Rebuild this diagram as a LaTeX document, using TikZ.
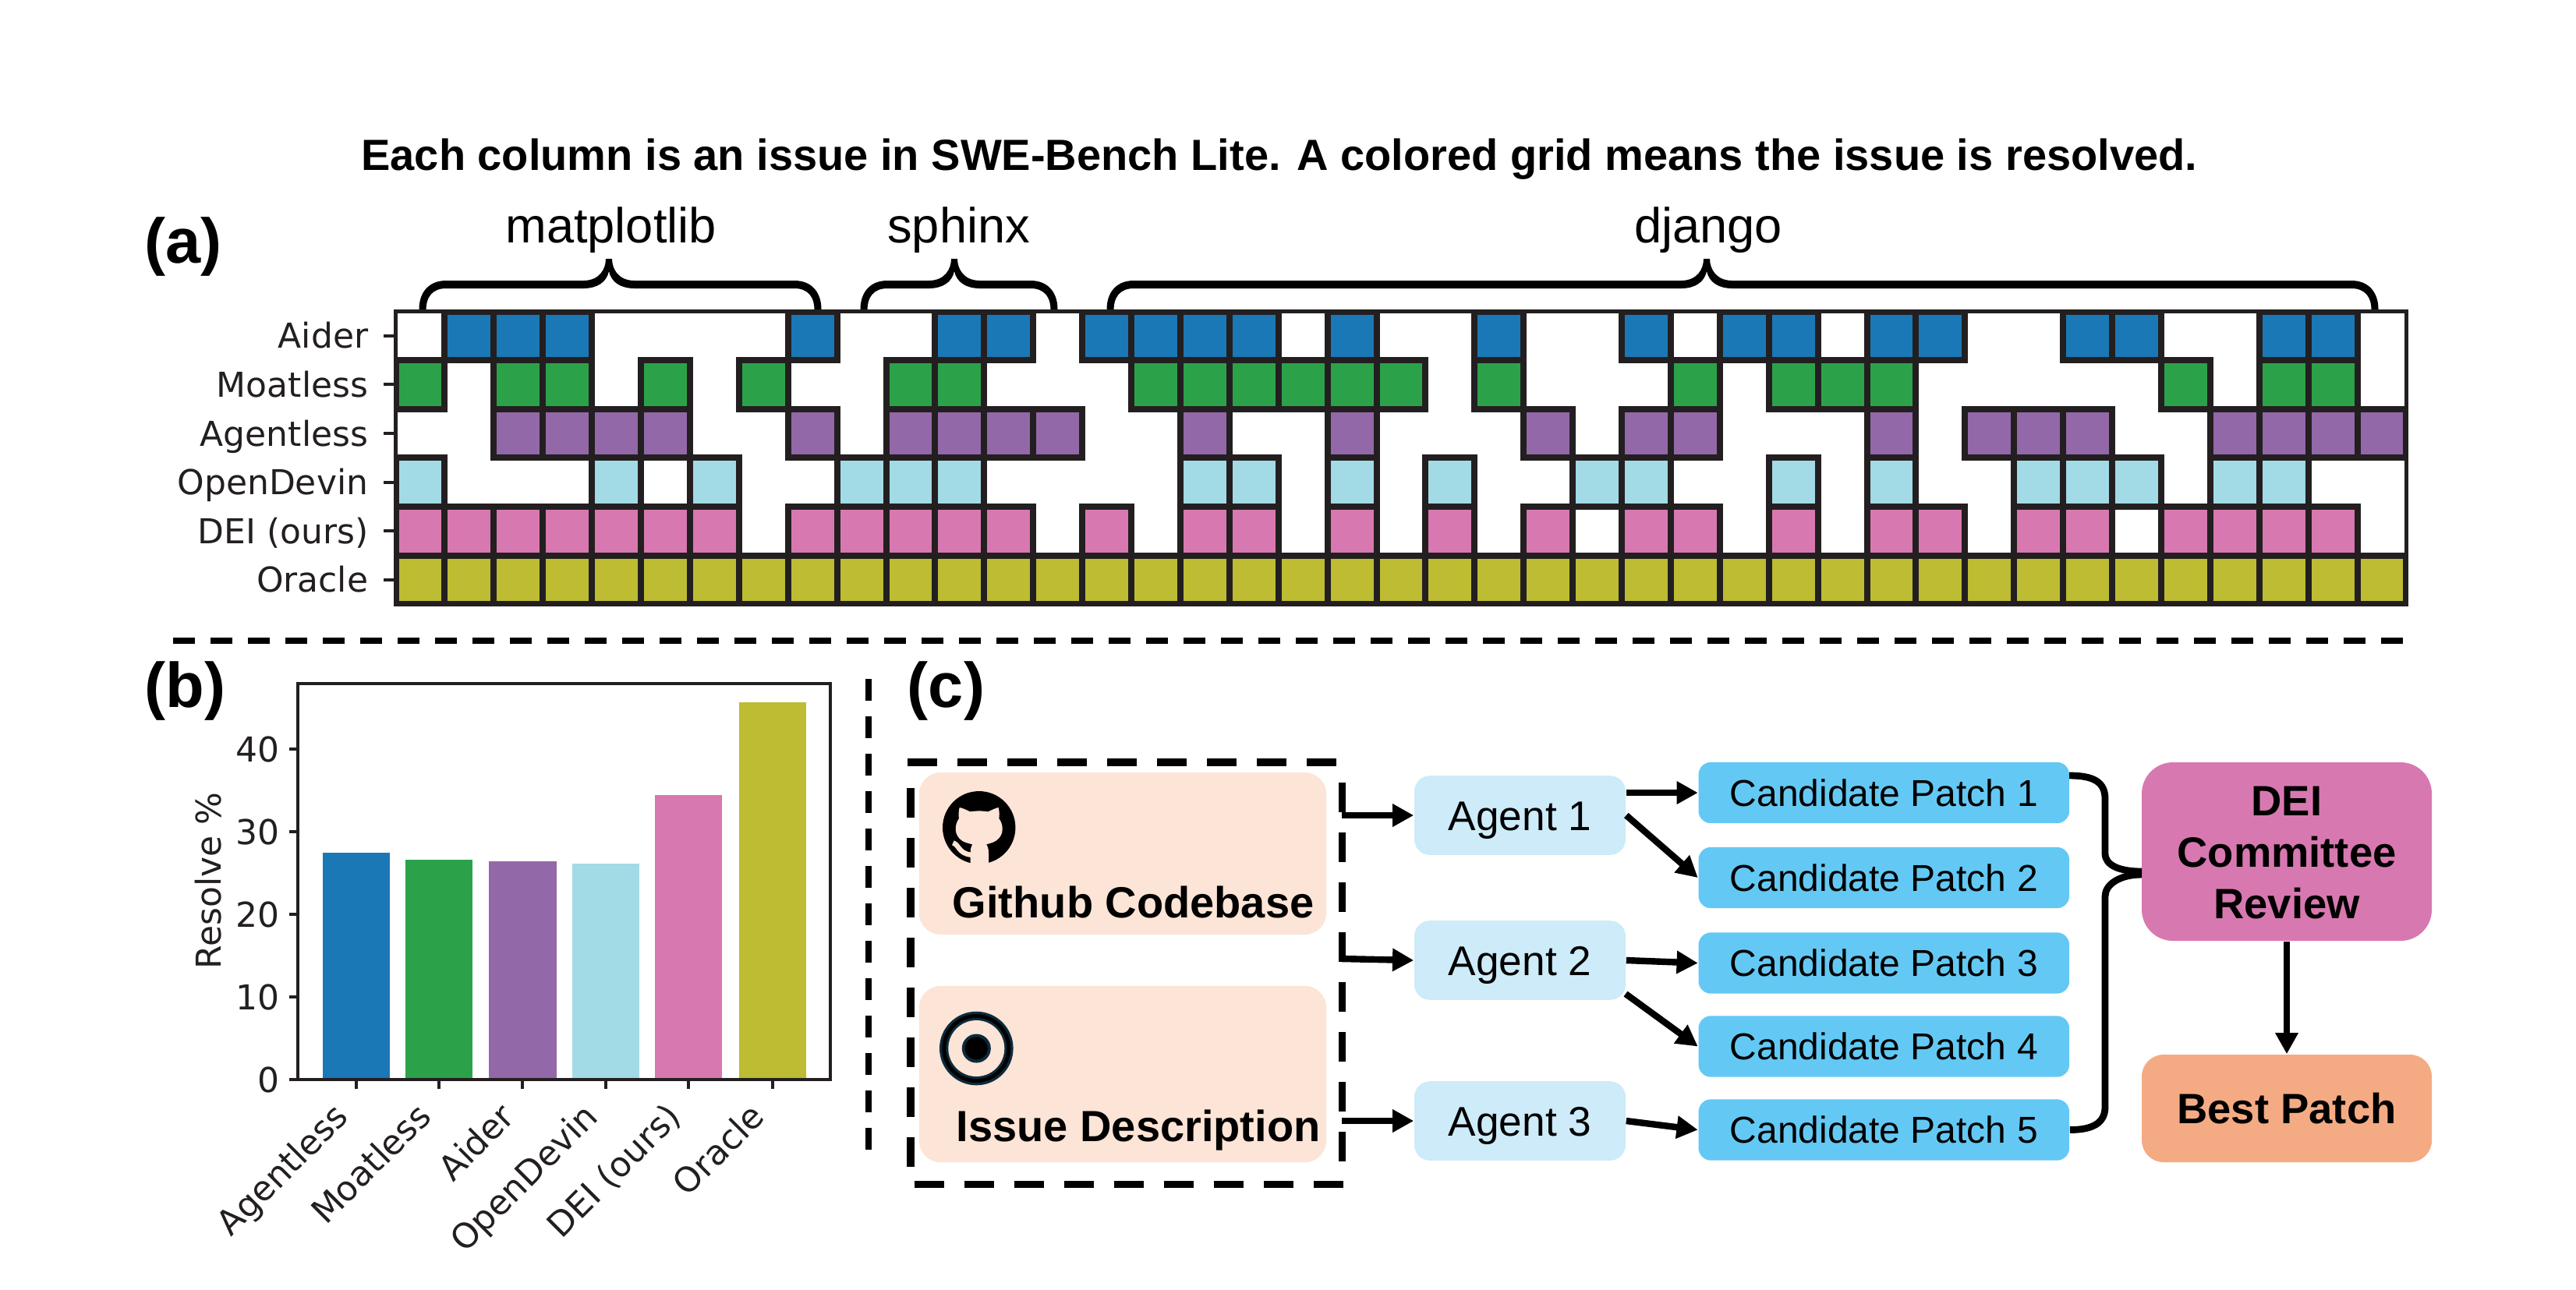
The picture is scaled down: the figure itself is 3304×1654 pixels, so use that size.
\documentclass[tikz,border=0pt]{standalone}
\usepackage{fontspec}
\setmainfont{Liberation Sans}
\newfontfamily\dvfont{DejaVu Sans}
\usetikzlibrary{arrows.meta}
\definecolor{inkc}{HTML}{231F20}
\definecolor{cAider}{HTML}{1B78B6}
\definecolor{cMoat}{HTML}{2BA24A}
\definecolor{cAgent}{HTML}{9368A9}
\definecolor{cDevin}{HTML}{A2DAE6}
\definecolor{cDei}{HTML}{D878B0}
\definecolor{cOracle}{HTML}{BDBC32}
\definecolor{cPeach}{HTML}{FCE4D6}
\definecolor{cAgentBox}{HTML}{CDEBF8}
\definecolor{cPatch}{HTML}{63C9F4}
\definecolor{cBest}{HTML}{F4AB84}
\definecolor{cRing}{HTML}{0B2B3C}
\tikzset{
  x=0.25pt,y=-0.25pt,
  cell edge/.style={draw=inkc,line width=2pt},
  axis frame/.style={draw=inkc,line width=1.15pt},
  axis tick/.style={draw=inkc,line width=1pt},
  plot label/.style={font=\dvfont\fontsize{11}{13}\selectfont,text=inkc,inner sep=0pt},
  row label/.style={plot label,anchor=east,text height=8pt,text depth=0pt},
  num label/.style={plot label,anchor=east,text height=8pt,text depth=0pt},
  bar label/.style={plot label,anchor=east,rotate=45,text height=8.2pt,text depth=2.6pt},
  panel label/.style={font=\bfseries\fontsize{20.3}{24}\selectfont,anchor=base west,inner sep=0pt},
  repo label/.style={font=\fontsize{15.8}{19}\selectfont,anchor=base,inner sep=0pt},
  sep line/.style={draw=black,line width=1.9pt,dash pattern=on 7pt off 5pt},
  input line/.style={draw=black,line width=2.3pt,dash pattern=on 9.5pt off 6.5pt},
  brace fill/.style={fill=black},
  peach box/.style={fill=cPeach,rounded corners=7pt,minimum width=130.6pt,inner sep=0pt},
  input label/.style={font=\bfseries\fontsize{14}{17}\selectfont,anchor=base west,inner sep=0pt},
  agent box/.style={fill=cAgentBox,rounded corners=5pt,minimum width=67.75pt,minimum height=25.4pt,inner sep=0pt,
    font=\fontsize{13.3}{16}\selectfont,text height=9.5pt,text depth=0pt},
  patch box/.style={fill=cPatch,rounded corners=4pt,minimum width=118.9pt,minimum height=19.6pt,inner sep=0pt,
    font=\fontsize{12}{14}\selectfont,text height=8.6pt,text depth=0pt},
  dei box/.style={fill=cDei,rounded corners=10pt,minimum width=93pt,minimum height=57.25pt,inner sep=0pt},
  dei text/.style={font=\bfseries\fontsize{13.6}{16.6}\selectfont,align=center,inner sep=0pt},
  best box/.style={fill=cBest,rounded corners=7pt,minimum width=93pt,minimum height=34.5pt,inner sep=0pt,
    font=\bfseries\fontsize{13.6}{16}\selectfont,text height=9.8pt,text depth=0pt},
  flow arrow/.style={draw=black,line width=2.1pt,-{Triangle[length=6.8pt,width=7pt]}},
  merge line/.style={draw=black,line width=2.2pt},
}
\newcommand{\bracepath}[3]{%
  \fill[brace fill] ({#1-4.5},397) .. controls ({#1-4.5},375) and ({#1+8},360) .. ({#1+30},360)
    -- ({#2-33},360) .. controls ({#2-12},360) and ({#2-4},345) .. ({#2-4},332)
    -- ({#2+4},332) .. controls ({#2+4},345) and ({#2+12},360) .. ({#2+33},360)
    -- ({#3-30},360) .. controls ({#3-8},360) and ({#3+4.5},375) .. ({#3+4.5},397)
    -- ({#3-4.5},397) .. controls ({#3-4.5},382) and ({#3-12},370) .. ({#3-30},370)
    -- ({#2+33},370) .. controls ({#2+15},370) and ({#2+3},362) .. (#2,348)
    .. controls ({#2-3},362) and ({#2-15},370) .. ({#2-33},370)
    -- ({#1+30},370) .. controls ({#1+12},370) and ({#1+4.5},382) .. ({#1+4.5},397) -- cycle;}
\def\gridrows{0/cAider/{1,2,3,8,11,12,14,15,16,17,19,22,25,27,28,30,31,34,35,38,39},
  1/cMoat/{0,2,3,5,7,10,11,15,16,17,18,19,20,22,26,28,29,30,36,38,39},
  2/cAgent/{2,3,4,5,8,10,11,12,13,16,19,23,25,26,30,32,33,34,37,38,39,40},
  3/cDevin/{0,4,6,9,10,11,16,17,19,21,24,25,28,30,33,34,35,37,38},
  4/cDei/{0,1,2,3,4,5,6,8,9,10,11,12,14,16,17,19,21,23,25,26,28,30,31,33,34,36,37,38,39},
  5/cOracle/{0,1,...,40}}
\begin{document}
\begin{tikzpicture}
\useasboundingbox (0,0) rectangle (3304,1654);
\fill[white] (0,0) rectangle (3304,1654);
% title
\node[font=\bfseries\fontsize{14}{17}\selectfont,anchor=base west,inner sep=0pt] (title) at (462.6,218)
  {Each column is an issue in SWE-Bench Lite. A colored grid means the issue is resolved.};
\node[panel label] (pa) at (185,337) {(a)};
\node[panel label] (pb) at (185,907) {(b)};
\node[panel label] (pc) at (1163,907) {(c)};
% braces
\node[repo label] (rm) at (783.6,311) {matplotlib};
\node[repo label] (rs) at (1229.6,311) {sphinx};
\node[repo label] (rd) at (2191,311) {django};
\bracepath{542}{781}{1049}
\bracepath{1108}{1224}{1352}
\bracepath{1424}{2189}{3046}
% grid
\begin{scope}
  \clip (507.5,399.5) rectangle (3086.5,775);
  \foreach \r/\colr/\cells in \gridrows {
    \foreach \c in \cells {
      \fill[\colr] ({507.5+\c*62.9},{399.5+\r*62.6}) rectangle ({507.5+(\c+1)*62.9},{399.5+(\r+1)*62.6});
    }
  }
  \foreach \r/\colr/\cells in \gridrows {
    \foreach \c in \cells {
      \draw[cell edge] ({507.5+\c*62.9},{399.5+\r*62.6}) rectangle ({507.5+(\c+1)*62.9},{399.5+(\r+1)*62.6});
    }
  }
\end{scope}
\draw[axis frame,line width=1.25pt] (507.5,399.5) rectangle (3086.5,775);
\foreach \i/\t in {0/Aider,1/Moatless,2/Agentless,3/OpenDevin,4/DEI (ours),5/Oracle} {
  \draw[axis tick] (492,{399.5+(\i+.5)*62.6}) -- (505,{399.5+(\i+.5)*62.6});
  \node[row label] (row\i) at (473,{399.5+(\i+.5)*62.6}) {\t};
}
% separators
\draw[sep line] (221.7,821.7) -- (3091.7,821.7);
\draw[sep line] (1114,871) -- (1114,1478);
% bar chart
\fill[cAider] (413.6,1094.4) rectangle (500,1385);
\fill[cMoat] (520,1102.6) rectangle (606,1385);
\fill[cAgent] (627,1105) rectangle (713.6,1385);
\fill[cDevin] (733.6,1108.4) rectangle (820,1385);
\fill[cDei] (840,1020) rectangle (926,1385);
\fill[cOracle] (947.6,901) rectangle (1033.6,1385);
\draw[axis frame] (382,877) rectangle (1065,1385);
\foreach \v/\yy in {0/1385,10/1279,20/1173,30/1067,40/961} {
  \draw[axis tick] (371,\yy) -- (382,\yy);
  \node[num label] (y\v) at (359,\yy) {\v};
}
\foreach \i/\xx/\t in {0/456.8/Agentless,1/563/Moatless,2/670.3/Aider,3/776.8/OpenDevin,4/883/DEI (ours),5/990.6/Oracle} {
  \draw[axis tick] (\xx,1385) -- (\xx,1397);
  \node[bar label] (bar\i) at ({\xx-15},1427) {\t};
}
\node[plot label,rotate=90,anchor=base] (ylab) at (283,1130) {Resolve \%};
% input boxes
\node[peach box,minimum height=52pt] (github) at (1440,1095) {};
\node[peach box,minimum height=56.6pt] (issue) at (1440,1378) {};
\node[input label] (githubt) at (1221,1177.7) {Github Codebase};
\node[input label] (issuet) at (1226,1464) {Issue Description};
% github mark
\fill[black] (1255.7,1061.7) circle (46.7);
\begin{scope}[shift={(1190,1000)},scale=0.3333]
  \fill[cPeach] (122,108) .. controls (135,110) and (150,118) .. (163,124)
    .. controls (185,120) and (210,120) .. (232,124)
    .. controls (245,118) and (260,110) .. (272,108)
    .. controls (276,125) and (276,140) .. (274,150)
    .. controls (292,175) and (295,215) .. (262,236)
    .. controls (252,243) and (238,246) .. (225,250)
    .. controls (232,258) and (234,270) .. (234,285) -- (234,332) -- (164,332) -- (164,285)
    .. controls (164,270) and (166,258) .. (172,250)
    .. controls (158,246) and (142,243) .. (132,236)
    .. controls (100,215) and (102,175) .. (120,150)
    .. controls (118,140) and (118,125) .. (122,108) -- cycle;
  \draw[cPeach,line width=1.6pt] (97,244) .. controls (120,250) and (118,285) .. (166,290);
\end{scope}
% issue mark
\fill[cRing] (1252.3,1345) circle (47.3);
\fill[black] (1252.3,1345) circle (44);
\fill[cRing] (1252.3,1345) circle (39);
\fill[cPeach] (1252.3,1345) circle (36);
\fill[cRing] (1252.3,1345) circle (18.5);
\fill[black] (1252.3,1345) circle (14.5);
% dashed frame
\coordinate (ftl) at (1164,978);
\coordinate (ftr) at (1720,978);
\coordinate (fbl) at (1172.7,1519.5);
\coordinate (fbr) at (1726,1519.5);
\coordinate (fl1) at (1168,1496.5);
\coordinate (fl2) at (1168,1009);
\coordinate (fr1) at (1721.5,1003.6);
\coordinate (fr2) at (1721.5,1491);
\draw[input line] (ftl) -- (ftr);
\draw[input line] (fbl) -- (fbr);
\draw[input line] (fl1) -- (fl2);
\draw[input line] (fr1) -- (fr2);
% agents
\node[agent box] (agent1) at (1949.5,1046) {Agent 1};
\node[agent box] (agent2) at (1949.5,1232) {Agent 2};
\node[agent box] (agent3) at (1949.5,1438) {Agent 3};
% patches
\node[patch box] (patch1) at (2416.3,1017) {Candidate Patch 1};
\node[patch box] (patch2) at (2416.3,1126) {Candidate Patch 2};
\node[patch box] (patch3) at (2416.3,1235.5) {Candidate Patch 3};
\node[patch box] (patch4) at (2416.3,1342.5) {Candidate Patch 4};
\node[patch box] (patch5) at (2416.3,1449.5) {Candidate Patch 5};
% committee
\node[dei box] (dei) at (2933,1092.5) {};
\node[dei text] (deit) at (2933,1094) {DEI\\Committee\\Review};
\node[best box] (best) at (2933,1422) {Best Patch};
% connectors
\coordinate (in1) at (1721,1046);
\coordinate (in2) at (1721,1230);
\coordinate (in3) at (1721,1438);
\coordinate (a2low) at (2085,1275);
\draw[flow arrow] (in1) -- (agent1.west);
\draw[flow arrow] (in2) -- (agent2.west);
\draw[flow arrow] (in3) -- (agent3.west);
\draw[flow arrow] (agent1.east |- patch1.west) -- (patch1.west);
\draw[flow arrow] (agent1.east) -- (patch2.west);
\draw[flow arrow] (agent2.east) -- (patch3.west);
\draw[flow arrow] (a2low) -- (patch4.west);
\draw[flow arrow] (agent3.east) -- (patch5.west);
\draw[flow arrow] (dei.south) -- (best.north);
\coordinate (m1) at (2654,995);
\coordinate (m5) at (patch5.east);
\coordinate (tip1) at (2747,1118);
\coordinate (tip2) at (2747,1122);
\draw[merge line] (m1) .. controls (2685,995) and (2700,1003) .. (2700,1025) -- (2700,1095)
   .. controls (2700,1110) and (2718,1118) .. (tip1);
\draw[merge line] (m5) .. controls (2682,1449.5) and (2700,1442) .. (2700,1420) -- (2700,1150)
   .. controls (2700,1135) and (2718,1122) .. (tip2);
\end{tikzpicture}
\end{document}
